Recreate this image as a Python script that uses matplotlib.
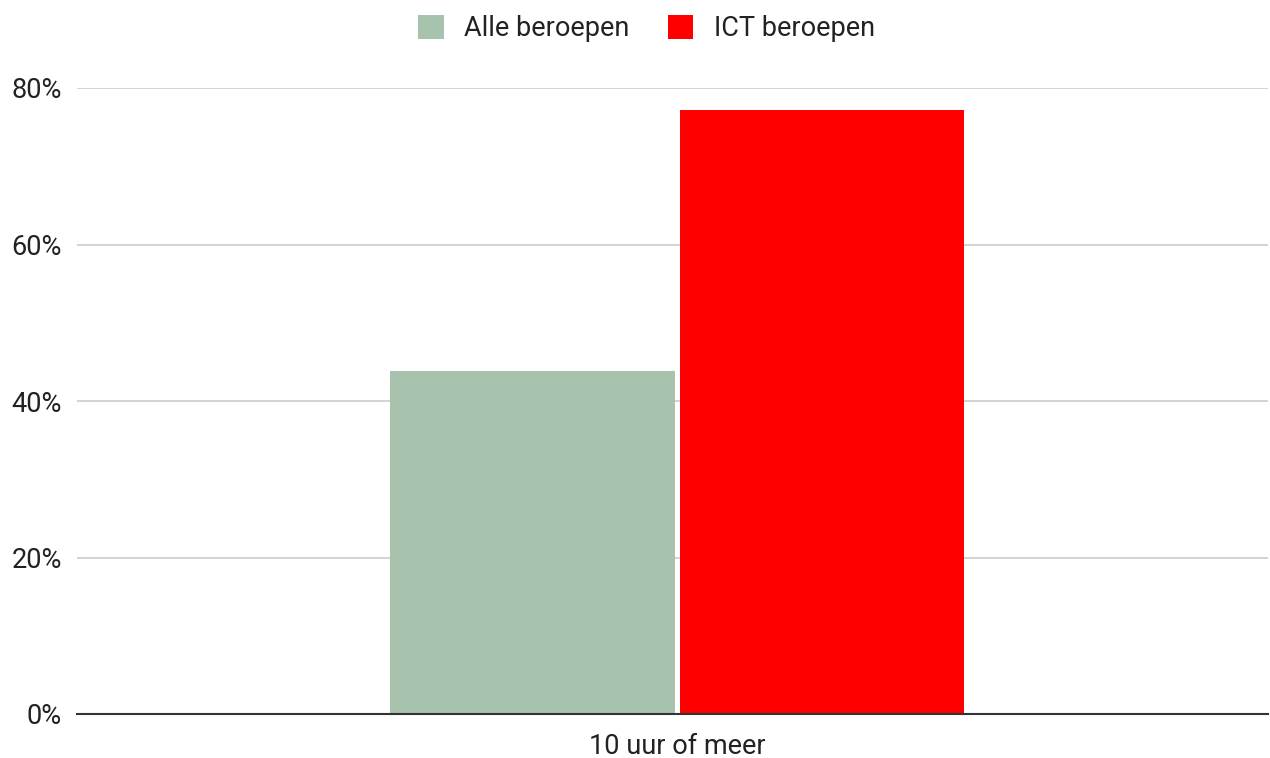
import matplotlib.pyplot as plt
from matplotlib.ticker import FuncFormatter

plt.rcParams['font.family'] = ['Roboto', 'DejaVu Sans']

# Data
categories = ['10 uur of meer']
series_names = ['Alle beroepen', 'ICT beroepen']
values = [43.8, 77.2]
colors = ['#a8c3ad', '#ff0000']

fig = plt.figure(figsize=(12.7, 7.58), dpi=100)
ax = fig.add_axes([77 / 1270, 1 - 714 / 758, (1268 - 77) / 1270, (714 - 88) / 758])

width = 0.239
offsets = [-0.1215, 0.1215]
for name, val, col, off in zip(series_names, values, colors, offsets):
    ax.bar([i + off for i in range(len(categories))], [val], width=width,
           color=col, label=name, zorder=3)

ax.set_xlim(-0.504, 0.496)
ax.set_ylim(0, 80)
ax.set_yticks([0, 20, 40, 60, 80])
ax.yaxis.set_major_formatter(FuncFormatter(lambda v, p: f"{int(v)}%"))
ax.set_xticks(range(len(categories)))
ax.set_xticklabels(categories)

ax.grid(axis='y', color='#cccccc', lw=1.2, zorder=0)
ax.tick_params(axis='both', length=0, labelsize=19.5, colors='#222222')
ax.tick_params(axis='y', pad=11)
ax.tick_params(axis='x', pad=14)
for s in ['top', 'right', 'left']:
    ax.spines[s].set_visible(False)
ax.spines['bottom'].set_color('#333333')
ax.spines['bottom'].set_linewidth(1.5)
ax.spines['bottom'].set_zorder(4)

leg = fig.legend(loc='upper center', bbox_to_anchor=(0.509, 1.012), ncol=2,
                 frameon=False, fontsize=19.5, handlelength=0.95, handleheight=0.95,
                 handletextpad=0.75, columnspacing=1.4)
for t in leg.get_texts():
    t.set_color('#222222')

fig.savefig('out.png', dpi=100)
